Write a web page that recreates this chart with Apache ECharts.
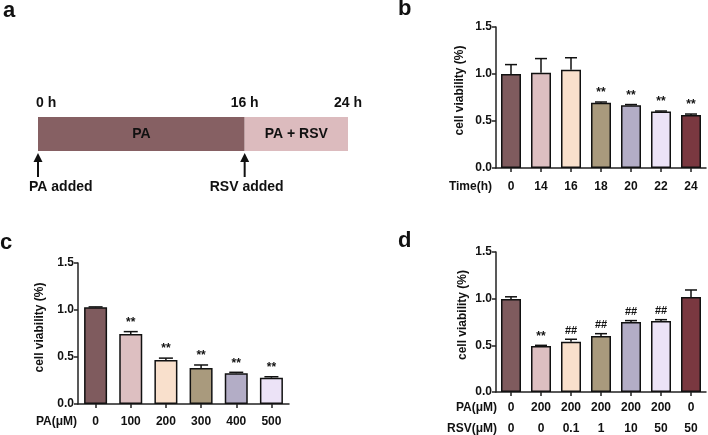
<!DOCTYPE html>
<html><head><meta charset="utf-8">
<script src="https://cdn.jsdelivr.net/npm/echarts@6/dist/echarts.min.js"></script>
<style>html,body{margin:0;padding:0;background:#fff}#c{width:708px;height:435px}</style>
</head><body><div id="c"></div><script>
// ---- Panel a: timeline ----
const timelineStages = ['PA', 'PA + RSV'];
const stageLength = [16, 8];
const timelineHours = [0, 16, 24];
const eventHours = [0, 16];
const eventLabels = ['PA added', 'RSV added'];

// ---- Panel b: time course ----
const timeCats = ['0', '14', '16', '18', '20', '22', '24'];
const timeMean = [1.00, 1.014, 1.045, 0.695, 0.667, 0.600, 0.564];
const timeSD = [0.10, 0.150, 0.128, 0.007, 0.008, 0.006, 0.010];
const timeSig = ['', '', '', '**', '**', '**', '**'];

// ---- Panel c: PA dose ----
const paCats = ['0', '100', '200', '300', '400', '500'];
const paMean = [1.03, 0.745, 0.468, 0.382, 0.327, 0.280];
const paSD = [0.003, 0.025, 0.020, 0.033, 0.010, 0.010];
const paSig = ['', '**', '**', '**', '**', '**'];

// ---- Panel d: PA + RSV ----
const comboPA = ['0', '200', '200', '200', '200', '200', '0'];
const comboRSV = ['0', '0', '0.1', '1', '10', '50', '50'];
const comboMean = [0.997, 0.493, 0.539, 0.600, 0.750, 0.761, 1.018];
const comboSD = [0.023, 0.007, 0.026, 0.025, 0.015, 0.014, 0.075];
const comboSig = ['', '**', '##', '##', '##', '##', ''];

const yTicks = [0, 0.5, 1.0, 1.5];

// styles
const palette = ['#7f5b5e', '#ddbfc1', '#f9e0cc', '#a99a7d', '#b3adc6', '#ece3f7', '#7a3840'];
const stageColors = ['#866063', '#dcbbbe'];
const FF = '"Liberation Sans", Arial, Helvetica, sans-serif';
const INK = '#111';

const chart = echarts.init(document.getElementById('c'), null, {renderer: 'canvas'});

function yAxisFor(gi, gap, shiftUp) {
  return {
    type: 'value', gridIndex: gi, min: yTicks[0], max: yTicks[yTicks.length - 1], interval: 0.5,
    name: 'cell viability (%)', nameLocation: 'middle', nameRotate: 90, nameGap: gap,
    nameTextStyle: {fontFamily: FF, fontWeight: 'bold', fontSize: 12, color: INK, padding: [0, 0, 0, shiftUp * 2]},
    axisLine: {show: true, lineStyle: {color: '#222', width: 1.5}},
    axisTick: {show: true, length: 4, lineStyle: {color: '#222', width: 1.5}},
    splitLine: {show: false},
    axisLabel: {fontFamily: FF, fontWeight: 'bold', fontSize: 12, color: INK, margin: 4,
      formatter: v => v.toFixed(1)}
  };
}
function xAxisFor(gi, cats, margin, extra) {
  return Object.assign({
    type: 'category', gridIndex: gi, data: cats,
    axisLine: {show: true, lineStyle: {color: '#222', width: 1.5}},
    axisTick: {show: true, alignWithLabel: true, length: 4, lineStyle: {color: '#222', width: 1.5}},
    axisLabel: {fontFamily: FF, fontWeight: 'bold', fontSize: 12, color: INK, margin: margin, interval: 0}
  }, extra || {});
}
function barSeries(gi, means, width) {
  return {
    type: 'bar', xAxisIndex: gi, yAxisIndex: gi, barWidth: width, z: 3,
    data: means.map((m, i) => ({value: m, itemStyle: {color: palette[i]}})),
    itemStyle: {borderColor: INK, borderWidth: 1.5},
    emphasis: {disabled: true}
  };
}
function errSeries(gi, means, sds, sigs, capHalf) {
  return {
    type: 'custom', xAxisIndex: gi, yAxisIndex: gi, z: 5,
    data: means.map((m, i) => [i, m, m + sds[i]]),
    renderItem(params, api) {
      const i = api.value(0);
      const top = api.coord([i, api.value(2)]);
      const base = api.coord([i, api.value(1)]);
      const children = [
        {type: 'line', shape: {x1: top[0], y1: base[1], x2: top[0], y2: top[1]}, style: {stroke: INK, lineWidth: 1.5}},
        {type: 'line', shape: {x1: top[0] - capHalf, y1: top[1], x2: top[0] + capHalf, y2: top[1]}, style: {stroke: INK, lineWidth: 1.5}}
      ];
      const s = sigs[params.dataIndex];
      if (s) {
        children.push({type: 'text', style: {text: s, x: top[0], y: top[1] - 3, align: 'center', verticalAlign: 'bottom',
          font: 'bold ' + (s === '##' ? 11 : 12) + 'px ' + FF, fill: INK}});
      }
      return {type: 'group', children};
    }
  };
}

const option = {
  animation: false,
  backgroundColor: '#fff',
  grid: [
    {left: 38, top: 117, width: 310, height: 34, outerBoundsMode: 'none'},
    {left: 496, top: 27, width: 210, height: 141, outerBoundsMode: 'none'},
    {left: 78, top: 263, width: 211, height: 141, outerBoundsMode: 'none'},
    {left: 496, top: 252, width: 210, height: 140, outerBoundsMode: 'none'}
  ],
  xAxis: [
    {type: 'value', gridIndex: 0, min: 0, max: timelineHours[timelineHours.length - 1], show: false},
    xAxisFor(1, timeCats, 13),
    xAxisFor(2, paCats, 12),
    xAxisFor(3, comboPA.map((p, i) => p + '|' + comboRSV[i]), 5, {
      axisLabel: {fontFamily: FF, fontWeight: 'bold', fontSize: 12, color: INK, margin: 5, interval: 0,
        lineHeight: 21, formatter: (v, i) => comboPA[i] + '\n' + comboRSV[i]}
    })
  ],
  yAxis: [
    {type: 'category', gridIndex: 0, data: ['timeline'], show: false},
    yAxisFor(1, 30, 7),
    yAxisFor(2, 32, 6),
    yAxisFor(3, 27, 7)
  ],
  graphic: [
    {type: 'text', left: 3, top: 0, style: {text: 'a', font: 'bold 22px ' + FF, fill: INK}},
    {type: 'text', left: 398, top: -2, style: {text: 'b', font: 'bold 22px ' + FF, fill: INK}},
    {type: 'text', left: 0, top: 232, style: {text: 'c', font: 'bold 22px ' + FF, fill: INK}},
    {type: 'text', left: 398, top: 230, style: {text: 'd', font: 'bold 22px ' + FF, fill: INK}},
    {type: 'text', x: 492, y: 187, style: {text: 'Time(h)', align: 'right', verticalAlign: 'middle', font: 'bold 12px ' + FF, fill: INK}},
    {type: 'text', x: 77, y: 422, style: {text: 'PA(μM)', align: 'right', verticalAlign: 'middle', font: 'bold 12px ' + FF, fill: INK}},
    {type: 'text', x: 497, y: 408, style: {text: 'PA(μM)', align: 'right', verticalAlign: 'middle', font: 'bold 12px ' + FF, fill: INK}},
    {type: 'text', x: 497, y: 429, style: {text: 'RSV(μM)', align: 'right', verticalAlign: 'middle', font: 'bold 12px ' + FF, fill: INK}}
  ],
  series: [
    // panel a stages
    ...timelineStages.map((name, i) => ({
      type: 'bar', xAxisIndex: 0, yAxisIndex: 0, stack: 'tl', barWidth: 34, name,
      data: [stageLength[i]], itemStyle: {color: stageColors[i]}, emphasis: {disabled: true},
      label: {show: true, position: 'inside', formatter: name, fontFamily: FF, fontWeight: 'bold', fontSize: 14, color: INK}
    })),
    // panel a hour labels and events
    {
      type: 'custom', xAxisIndex: 0, yAxisIndex: 0, z: 6,
      data: timelineHours.map(h => [h, 0]),
      renderItem(params, api) {
        const p = api.coord([api.value(0), 0]);
        const idx = params.dataIndex;
        const first = idx === 0;
        return {type: 'text', style: {text: timelineHours[idx] + ' h', x: first ? p[0] - 2 : p[0], y: p[1] - 31,
          align: first ? 'left' : 'center', verticalAlign: 'middle', font: 'bold 14px ' + FF, fill: INK}};
      }
    },
    {
      type: 'custom', xAxisIndex: 0, yAxisIndex: 0, z: 6,
      data: eventHours.map(h => [h, 0]),
      renderItem(params, api) {
        const p = api.coord([api.value(0), 0]);
        const x = p[0], tip = p[1] + 19, bottom = p[1] + 43;
        const idx = params.dataIndex;
        return {type: 'group', children: [
          {type: 'polygon', shape: {points: [[x, tip], [x - 4.5, tip + 9], [x + 4.5, tip + 9]]}, style: {fill: INK}},
          {type: 'line', shape: {x1: x, y1: tip + 6, x2: x, y2: bottom}, style: {stroke: INK, lineWidth: 2}},
          {type: 'text', style: {text: eventLabels[idx], x: idx === 0 ? x - 9 : x + 2, y: p[1] + 53,
            align: idx === 0 ? 'left' : 'center', verticalAlign: 'middle', font: 'bold 14px ' + FF, fill: INK}}
        ]};
      }
    },
    barSeries(1, timeMean, 20),
    errSeries(1, timeMean, timeSD, timeSig, 6),
    barSeries(2, paMean, 23),
    errSeries(2, paMean, paSD, paSig, 7),
    barSeries(3, comboMean, 20),
    errSeries(3, comboMean, comboSD, comboSig, 6)
  ]
};
chart.setOption(option);
</script></body></html>
